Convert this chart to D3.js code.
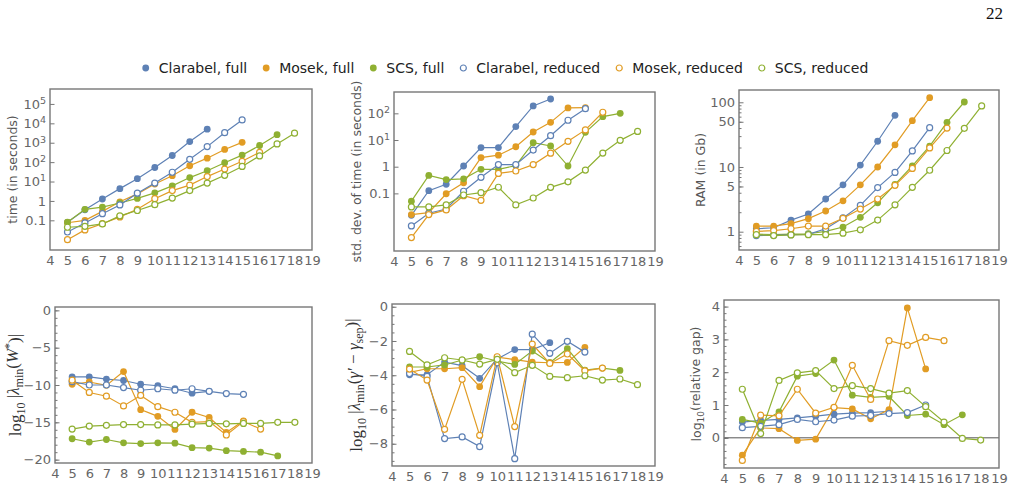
<!DOCTYPE html>
<html>
<head>
<meta charset="utf-8">
<script src="https://cdn.jsdelivr.net/npm/d3@7"></script>
<style>
body { margin: 0; background: #fff; }
text { font-family: "DejaVu Sans", sans-serif; }
</style>
</head>
<body>
<script>
//variabili
var width = 1020, height = 490;

var solvers = ["Clarabel, full", "Mosek, full", "SCS, full", "Clarabel, reduced", "Mosek, reduced", "SCS, reduced"];
var colors = ["#5e81b5", "#e19c24", "#8fb032", "#5e81b5", "#e19c24", "#8fb032"];
var filled = [true, true, true, false, false, false];
var firstN = 5;
var xTicks = d3.range(4, 20);

// dati: una riga per solver, valori da n = 5 in avanti
var timeVals = [
    [0.079, 0.35, 1.26, 4.3, 14, 53, 220, 1150, 5000],
    [0.075, 0.1, 0.29, 0.9, 2.3, 7.4, 20, 65, 160, 450, 1050],
    [0.08, 0.37, 0.48, 0.78, 1.35, 2.6, 6, 16, 36, 93, 230, 720, 2600],
    [0.025, 0.073, 0.22, 0.62, 2.5, 8.3, 30, 140, 630, 3300, 15000],
    [0.01, 0.032, 0.067, 0.15, 0.37, 1.3, 3.4, 6.5, 18, 44, 110, 320],
    [0.044, 0.049, 0.065, 0.17, 0.32, 0.64, 1.4, 3.4, 8.3, 21, 60, 210, 870, 3100]
];
var stdVals = [
    [0.015, 0.126, 0.22, 1.06, 5.2, 5.2, 32, 190, 345],
    [0.016, 0.019, 0.097, 0.25, 2.2, 2.7, 5.6, 20, 46, 160, 165],
    [0.051, 0.47, 0.33, 0.35, 0.8, 0.8, 1.1, 7.9, 6, 1.06, 19.5, 75, 100],
    [0.006, 0.018, 0.026, 0.12, 0.4, 1.2, 1.2, 4.2, 14.5, 55, 150],
    [0.0022, 0.016, 0.024, 0.082, 0.055, 0.56, 0.69, 1.2, 3.2, 8.9, 24, 110],
    [0.031, 0.031, 0.037, 0.087, 0.106, 0.17, 0.037, 0.067, 0.168, 0.27, 0.75, 3.25, 9.7, 21]
];
var ramVals = [
    [1.11, 1.15, 1.51, 1.88, 3.2, 5.3, 10.7, 25, 63],
    [1.22, 1.22, 1.33, 1.59, 2.09, 3.0, 5.3, 10, 22, 52, 118],
    [0.92, 0.9, 0.92, 0.93, 1.01, 1.18, 1.67, 2.8, 5.4, 10.4, 21, 49, 101],
    [0.87, 0.88, 0.9, 0.91, 1.11, 1.63, 2.55, 4.8, 8.25, 17.7, 40.5],
    [1.01, 1.04, 1.11, 1.22, 1.22, 1.61, 2.24, 3.2, 5.2, 9.5, 19.7, 40],
    [0.9, 0.87, 0.89, 0.9, 0.9, 0.95, 1.07, 1.51, 2.6, 4.85, 8.9, 18, 39.6, 88]
];
var eigWVals = [
    [-8.9, -8.9, -9.2, -9.4, -9.9, -10.1, -10.5, -11.1, -10.85],
    [-9.9, -9.6, -10.05, -8.2, -13.3, -14.2, -15.95, -13.65, -14.35, -16.35, -14.8],
    [-17.2, -17.65, -17.3, -17.75, -17.85, -17.75, -17.8, -18.4, -18.45, -18.8, -18.9, -19.0, -19.5],
    [-9.55, -10, -10, -10.35, -10.7, -10.5, -10.7, -10.5, -10.85, -11.15, -11.25],
    [-9.35, -11, -11.5, -12.8, -11.4, -12.9, -13.65, -15, -14.9, -16.7, -14.9, -15.9],
    [-15.9, -15.5, -15.4, -15.3, -15.3, -15.35, -15.35, -15.25, -15.15, -15.2, -15.15, -15.15, -15.0, -15.0]
];
var eigGVals = [
    [-3.97, -3.97, -3.23, -3.44, -4.18, -3.05, -2.5, -2.5, -2.1],
    [-3.83, -3.62, -3.62, -3.56, -4.67, -2.94, -3.09, -3.23, -3.27, -3.25, -2.37],
    [-3.52, -3.52, -3.4, -3.11, -2.92, -3.17, -3.37, -2.59, -3.27, -2.45, -3.7, -3.58, -3.72],
    [-3.9, -4.07, -7.7, -7.6, -8.17, -3.27, -8.87, -1.6, -2.72, -2.02, -2.65],
    [-3.64, -4.28, -7.16, -4.24, -7.51, -2.92, -7.0, -2.18, -3.31, -2.76, -3.74, -3.58],
    [-2.61, -3.39, -2.98, -3.11, -3.35, -3.07, -3.85, -3.42, -4.07, -4.14, -4.03, -4.28, -4.22, -4.55]
];
var gapVals = [
    [0.48, 0.53, 0.56, 0.61, 0.66, 0.72, 0.75, 0.77, 0.81],
    [-0.53, 0.3, 0.28, -0.08, -0.04, 0.92, 0.88, 0.58, 0.86, 3.96, 2.1],
    [0.56, 0.45, 0.79, 1.88, 1.96, 2.37, 1.3, 1.23, 1.26, 0.68, 0.72, 0.4, 0.7],
    [0.31, 0.35, 0.4, 0.56, 0.49, 0.54, 0.66, 0.68, 0.74, 0.77, 1.0],
    [-0.69, 0.69, 0.67, 1.48, 0.75, 0.93, 2.21, 1.17, 2.96, 2.82, 3.06, 2.96],
    [1.48, 0.13, 1.75, 1.98, 2.05, 1.5, 1.59, 1.5, 1.36, 1.44, 0.95, 0.48, -0.02, -0.07]
];

// tick
var timeTicks = [0.1, 1, 10, 100, 1e3, 1e4, 1e5];
var stdTicks = [0.1, 1, 10, 100];
var ramTicks = [1, 5, 10, 50, 100];
var eigWTicks = [0, -5, -10, -15, -20];
var eigGTicks = [0, -2, -4, -6, -8];
var gapTicks = [0, 1, 2, 3, 4];

var svg = d3.select("body").append("svg")
    .attr("width", width)
    .attr("height", height);

// numero di pagina
svg.append("text")
    .attr("x", 1003).attr("y", 19)
    .attr("text-anchor", "end")
    .style("font-family", "Liberation Serif, serif")
    .style("font-size", "17px")
    .attr("fill", "#111")
    .text("22");

function logMinors(dom) {
    var out = [];
    for (var e = Math.floor(Math.log10(dom[0])); e <= Math.ceil(Math.log10(dom[1])); e++) {
        for (var k = 2; k <= 9; k++) {
            var v = k * Math.pow(10, e);
            if (v > dom[0] && v < dom[1]) out.push(v);
        }
    }
    return out;
}

var panels = [
    { vals: timeVals, l: 50, r: 312, t: 89, b: 250, log: true, dom: [Math.pow(10, -2.53), Math.pow(10, 5.77)],
      ticks: timeTicks, exp: true, minors: [], label: "time (in seconds)", lx: 13 },
    { vals: stdVals, l: 394, r: 655, t: 92, b: 251, log: true, dom: [Math.pow(10, -3.16), Math.pow(10, 2.8)],
      ticks: stdTicks, exp: true, minors: [], label: "std. dev. of time (in seconds)", lx: 357 },
    { vals: ramVals, l: 739, r: 999, t: 90, b: 250, log: true, dom: [Math.pow(10, -0.283), Math.pow(10, 2.19)],
      ticks: ramTicks, exp: false, minors: "log", label: "RAM (in Gb)", lx: 701 },
    { vals: eigWVals, l: 55, r: 312, t: 307, b: 463, log: false, dom: [-20.45, 0.45],
      ticks: eigWTicks, minors: d3.range(-20, 1, 1), math: "W", lx: 15 },
    { vals: eigGVals, l: 392, r: 655, t: 304, b: 466, log: false, dom: [-9.3, 0.16],
      ticks: eigGTicks, minors: d3.range(-9, 0.01, 0.5), math: "G", lx: 356 },
    { vals: gapVals, l: 724, r: 999, t: 300, b: 468, log: false, dom: [-0.92, 4.2],
      ticks: gapTicks, minors: d3.range(-0.8, 4.2, 0.2), zeroLine: true, gap: true, lx: 697 }
];

panels.forEach(function (p) {
    var g = svg.append("g");
    var x = d3.scaleLinear().domain([4, 19]).range([p.l, p.r]);
    var y = (p.log ? d3.scaleLog() : d3.scaleLinear()).domain(p.dom).range([p.b, p.t]);

    // tick minori
    var minors = p.minors === "log" ? logMinors(p.dom) : p.minors;
    var minAx = g.append("g").attr("transform", "translate(" + p.l + ",0)")
        .call(d3.axisLeft(y).tickValues(minors).tickSize(-2.5).tickFormat(""));
    minAx.select(".domain").remove();
    minAx.selectAll("line").attr("stroke", "#777");

    // asse y
    var yAx = g.append("g").attr("transform", "translate(" + p.l + ",0)")
        .call(d3.axisLeft(y).tickValues(p.ticks).tickSize(-4.5).tickPadding(4)
            .tickFormat(function (d) {
                if (p.log) return d < 1 ? "0.1" : (p.exp && d >= 10 ? "10" : String(d));
                return d3.format("d")(d).replace("-", "\u2212");
            }));
    yAx.select(".domain").remove();
    yAx.selectAll("line").attr("stroke", "#777");
    yAx.selectAll("text").style("font-size", "13px").attr("fill", "#666")
        .each(function (d) {
            if (p.log && p.exp && d >= 10) {
                d3.select(this).append("tspan").attr("dy", "-0.5em").style("font-size", "9.5px")
                    .text(Math.round(Math.log10(d)));
            }
        });

    // asse x
    var xAx = g.append("g").attr("transform", "translate(0," + p.b + ")")
        .call(d3.axisBottom(x).tickValues(xTicks).tickSize(0).tickPadding(6));
    xAx.select(".domain").remove();
    xAx.selectAll("text").style("font-size", "13px").attr("fill", "#666");

    if (p.zeroLine) {
        g.append("line")
            .attr("x1", p.l).attr("x2", p.r)
            .attr("y1", y(0)).attr("y2", y(0))
            .attr("stroke", "#555").attr("stroke-width", 1);
    }

    // serie
    var line = d3.line()
        .x(function (d) { return x(d[0]); })
        .y(function (d) { return y(d[1]); });

    p.vals.forEach(function (vals, i) {
        var pts = vals.map(function (v, j) { return [firstN + j, v]; });
        g.append("path").datum(pts)
            .attr("d", line)
            .attr("fill", "none")
            .attr("stroke", colors[i])
            .attr("stroke-width", 1.2);
        g.append("g").selectAll("circle").data(pts).enter().append("circle")
            .attr("cx", function (d) { return x(d[0]); })
            .attr("cy", function (d) { return y(d[1]); })
            .attr("r", filled[i] ? 3.4 : 3)
            .attr("fill", filled[i] ? colors[i] : "#fff")
            .attr("stroke", colors[i])
            .attr("stroke-width", filled[i] ? 0 : 1.2);
    });

    // cornice
    g.append("rect")
        .attr("x", p.l).attr("y", p.t)
        .attr("width", p.r - p.l).attr("height", p.b - p.t)
        .attr("fill", "none").attr("stroke", "#777").attr("stroke-width", 1.4);

    // etichetta asse y
    var cy = (p.t + p.b) / 2;
    var lab = g.append("text")
        .attr("transform", "translate(" + p.lx + "," + cy + ") rotate(-90)")
        .attr("text-anchor", "middle")
        .attr("dy", "0.35em")
        .attr("fill", "#555");
    if (p.label) {
        lab.style("font-size", "12.5px").text(p.label);
    } else if (p.gap) {
        lab.style("font-size", "12.5px");
        lab.append("tspan").text("log");
        lab.append("tspan").attr("dy", "0.3em").style("font-size", "9px").text("10");
        lab.append("tspan").attr("dy", "-0.3em").text("(relative gap)");
    } else {
        lab.style("font-family", "Liberation Serif, serif").style("font-size", "17px").attr("fill", "#333");
        lab.append("tspan").text("log");
        lab.append("tspan").attr("dy", "0.3em").style("font-size", "12px").text("10");
        lab.append("tspan").attr("dy", "-0.3em").text(" |");
        lab.append("tspan").style("font-style", "italic").text("\u03bb");
        lab.append("tspan").attr("dy", "0.3em").style("font-size", "12px").text("min");
        if (p.math === "W") {
            lab.append("tspan").attr("dy", "-0.3em").text("(");
            lab.append("tspan").style("font-style", "italic").text("W");
            lab.append("tspan").attr("dy", "-0.4em").style("font-size", "12px").text("*");
            lab.append("tspan").attr("dy", "0.4em").text(")|");
        } else {
            lab.append("tspan").attr("dy", "-0.3em").text("(");
            lab.append("tspan").style("font-style", "italic").text("\u03b3\u2032");
            lab.append("tspan").text(" \u2212 ");
            lab.append("tspan").style("font-style", "italic").text("\u03b3");
            lab.append("tspan").attr("dy", "0.3em").style("font-size", "12px").text("sep");
            lab.append("tspan").attr("dy", "-0.3em").text(")|");
        }
    }
});

// legenda
var leg = svg.append("g");
var lx = 0;
solvers.forEach(function (s, i) {
    var it = leg.append("g").attr("transform", "translate(" + lx + ",0)");
    it.append("circle").attr("cx", 0).attr("cy", 0)
        .attr("r", filled[i] ? 3.4 : 3)
        .attr("fill", filled[i] ? colors[i] : "#fff")
        .attr("stroke", colors[i])
        .attr("stroke-width", filled[i] ? 0 : 1.2);
    var t = it.append("text").attr("x", 13).attr("dy", "0.35em")
        .style("font-size", "14px").attr("fill", "#222").text(s);
    lx += 13 + t.node().getComputedTextLength() + 19;
});
var legW = lx - 19;
leg.attr("transform", "translate(" + (507 - legW / 2) + ",68)");
</script>
</body>
</html>
